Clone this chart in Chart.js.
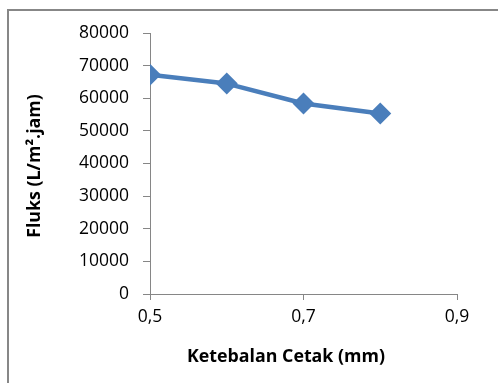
<!DOCTYPE html>
<html>
<head>
<meta charset="utf-8">
<script src="https://cdn.jsdelivr.net/npm/chart.js@4"></script>
<style>
  html, body { margin: 0; padding: 0; background: #fff; }
  body { width: 498px; height: 383px; overflow: hidden; position: relative; }
  #frame { position: absolute; left: 7px; top: 9px; width: 600px; height: 500px;
           border-left: 2px solid #878787; border-top: 2px solid #878787; }
  #wrap { position: absolute; left: 0; top: 0; width: 498px; height: 383px; }
</style>
</head>
<body>
<div id="frame"></div>
<div id="wrap"><canvas id="c" width="498" height="383"></canvas></div>
<script>
// Mould thickness (mm) and measured flux (L/m².jam)
const thickness = [0.5, 0.6, 0.7, 0.8];
const flux = [67200, 64500, 58400, 55300];

const xTitle = 'Ketebalan Cetak (mm)';
const yTitle = 'Fluks (L/m\u00B2.jam)';

const axisColor = '#868686';
const lineColor = '#4A7EBB';
const FONT = '"Open Sans", "Liberation Sans", sans-serif';

// Axis titles are drawn at fixed spots so they sit where the frame expects them
const axisTitles = {
  id: 'axisTitles',
  afterDraw(chart) {
    const ctx = chart.ctx;
    ctx.save();
    ctx.fillStyle = '#000';
    ctx.font = 'bold 17.8px ' + FONT;
    ctx.textAlign = 'center';
    ctx.textBaseline = 'middle';
    ctx.fillText(xTitle, 286, 357);
    ctx.translate(35, 166);
    ctx.rotate(-Math.PI / 2);
    ctx.fillText(yTitle, 0, 0);
    ctx.restore();
  }
};

new Chart(document.getElementById('c'), {
  type: 'line',
  data: {
    datasets: [{
      data: thickness.map((t, i) => ({ x: t, y: flux[i] })),
      borderColor: lineColor,
      backgroundColor: lineColor,
      borderWidth: 4.5,
      borderJoinStyle: 'round',
      borderCapStyle: 'round',
      pointStyle: 'rectRot',
      pointRadius: 11,
      pointBorderWidth: 0,
      pointBackgroundColor: lineColor,
      tension: 0
    }]
  },
  plugins: [axisTitles],
  options: {
    responsive: false,
    animation: false,
    layout: { padding: { left: 60, top: 33, right: 41, bottom: 0 } },
    plugins: { legend: { display: false }, tooltip: { enabled: false } },
    scales: {
      x: {
        type: 'linear',
        min: 0.5, max: 0.9,
        afterFit(scale) { scale.height = 383 - 294; },
        ticks: {
          stepSize: 0.2,
          color: '#000',
          font: { family: FONT, size: 17.5 },
          padding: 7,
          maxRotation: 0,
          callback: v => v.toFixed(1).replace('.', ',')
        },
        grid: { drawOnChartArea: false, drawTicks: true, tickLength: 6, color: axisColor, lineWidth: 1 },
        border: { color: axisColor, width: 1 }
      },
      y: {
        min: 0, max: 80000,
        afterFit(scale) { scale.width = 150 - 60; },
        ticks: {
          stepSize: 10000,
          color: '#000',
          font: { family: FONT, size: 17.5 },
          padding: 14,
          callback: v => String(v)
        },
        grid: { drawOnChartArea: false, drawTicks: true, tickLength: 7, color: axisColor, lineWidth: 1 },
        border: { color: axisColor, width: 1 }
      }
    }
  }
});
</script>
</body>
</html>
